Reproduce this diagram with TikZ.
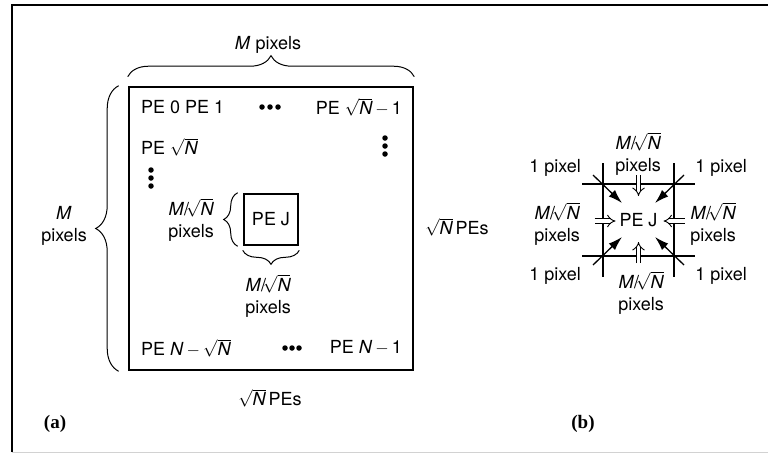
\documentclass[tikz,border=0pt]{standalone}
\usepackage{fontspec}
\setmainfont{TeX Gyre Heros}
\newfontfamily\panelfont{Liberation Serif}
\usepackage{tikz}
\usetikzlibrary{calc,positioning,arrows.meta,decorations.pathreplacing}
\newcommand{\rtN}{\ensuremath{\sqrt{\textit{N}}}}
\newcommand{\MrtN}{\textit{M}/\!\rtN}
\newcommand{\mns}{\,\ensuremath{-}\,}

\begin{document}
\begin{tikzpicture}[x=1pt, y=-1pt,
  lbl/.style={font=\fontsize{18}{22}\selectfont, inner sep=1pt, align=center},
  panel/.style={font=\fontsize{19}{22}\selectfont\panelfont\bfseries, inner sep=1pt},
  peblock/.style={draw, line width=2.6pt, inner sep=0pt},
  cut/.style={line width=1.4pt},
  bracket/.style={decorate, decoration={brace, amplitude=#1}, line width=1pt},
  pointer/.style={-{Latex[length=14pt,width=9pt]}, line width=1.3pt},
  feed/.style={double, double distance=3.5pt, line width=0.9pt, -{Implies}},
  pip/.style={circle, fill, inner sep=0pt, minimum size=5.5pt},
]
\useasboundingbox (0,0) rectangle (768,456);

% outer frame
\draw[line width=1.2pt] (12,452) -- (12,5) -- (768,5);
\draw[gray!35, line width=0.8pt] (12,452) -- (768,452);

% (a) the image split over the PEs
\node[peblock, minimum width=284pt, minimum height=283pt] (grid) at (271,228.5) {};

\node[lbl, anchor=west] (pe0) at (140,107) {PE 0 PE 1};
\node[lbl, anchor=east] (pelast) at (403,107) {PE \rtN\mns1};
\node[lbl, anchor=west] (pesq) at (140,147) {PE \rtN};
\node[lbl, anchor=west] (pebl) at (140,348) {PE \textit{N}\mns\rtN};
\node[lbl, anchor=east] (pebr) at (403,348) {PE \textit{N}\mns1};

\foreach \x in {262,270,278}
  \node[pip] (top\x) at (\x,107) {};
\foreach \x in {285,292,299}
  \node[pip] (bot\x) at (\x,348) {};
\foreach \y in {138,146,154}
  \node[pip] (rgt\y) at (385,\y) {};
\foreach \y in {170,178,186}
  \node[pip] (lft\y) at (151,\y) {};

\node[peblock, minimum width=54pt, minimum height=51pt] (pej) at (271,219.5) {\fontsize{18}{22}\selectfont PE J};

\draw[bracket=21pt] ($(grid.north west)+(0,-9)$) -- ($(grid.north east)+(0,-9)$);
\draw[bracket=23pt] ($(grid.south west)+(-9,0)$) -- ($(grid.north west)+(-9,0)$);
\draw[bracket=14pt] ($(pej.south west)+(-5,0)$) -- ($(pej.north west)+(-5,0)$);
\draw[bracket=14pt] ($(pej.south east)+(0,4)$) -- ($(pej.south west)+(0,4)$);

\node[lbl] (mtop) at (268,45) {\textit{M} pixels};
\node[lbl] (mleft) at (64,226) {\textit{M}\\pixels};
\node[lbl] (jleft) at (191,220) {\MrtN\\pixels};
\node[lbl] (jbot) at (268,296) {\MrtN\\pixels};
\node[lbl] (pesright) at (457,227) {\rtN\,PEs};
\node[lbl] (pesbelow) at (270,398) {\rtN\,PEs};

\node[panel] (pa) at (55,424) {(a)};

% (b) what PE J receives
\coordinate (bnw) at (603,184);
\coordinate (bne) at (674,184);
\coordinate (bsw) at (603,256);
\coordinate (bse) at (674,256);

\draw[cut] ($(bnw)+(0,-21)$) -- ($(bsw)+(0,21)$);
\draw[cut] ($(bne)+(0,-21)$) -- ($(bse)+(0,21)$);
\draw[cut] ($(bnw)+(-21,0)$) -- ($(bne)+(21,0)$);
\draw[cut] ($(bsw)+(-21,0)$) -- ($(bse)+(21,0)$);

\node[lbl] (pej2) at ($(bnw)!0.5!(bse)$) {PE J};

\foreach \c/\sx/\sy in {bnw/1/1, bne/-1/1, bsw/1/-1, bse/-1/-1}
  \draw[pointer] ($(\c)+(-10*\sx,-9*\sy)$) -- ($(\c)+(19*\sx,19*\sy)$);

\draw[feed] ($(pej2)+(0,-45)$) -- ($(pej2)+(0,-24)$);
\draw[feed] ($(pej2)+(0,43)$) -- ($(pej2)+(0,22)$);
\draw[feed] ($(pej2)+(-44,1)$) -- ($(pej2)+(-23,1)$);
\draw[feed] ($(pej2)+(46,1)$) -- ($(pej2)+(25,1)$);

\node[lbl] (btop) at (638,154) {\MrtN\\pixels};
\node[lbl] (bleft) at (557,224) {\MrtN\\pixels};
\node[lbl] (bright) at (713,224) {\MrtN\\pixels};
\node[lbl] (bbot) at (641,293) {\MrtN\\pixels};
\node[lbl] (onetl) at (555,168) {1 pixel};
\node[lbl] (onetr) at (721,168) {1 pixel};
\node[lbl] (onebl) at (555,276) {1 pixel};
\node[lbl] (onebr) at (721,276) {1 pixel};

\node[panel] (pb) at (583,424) {(b)};
\end{tikzpicture}
\end{document}
